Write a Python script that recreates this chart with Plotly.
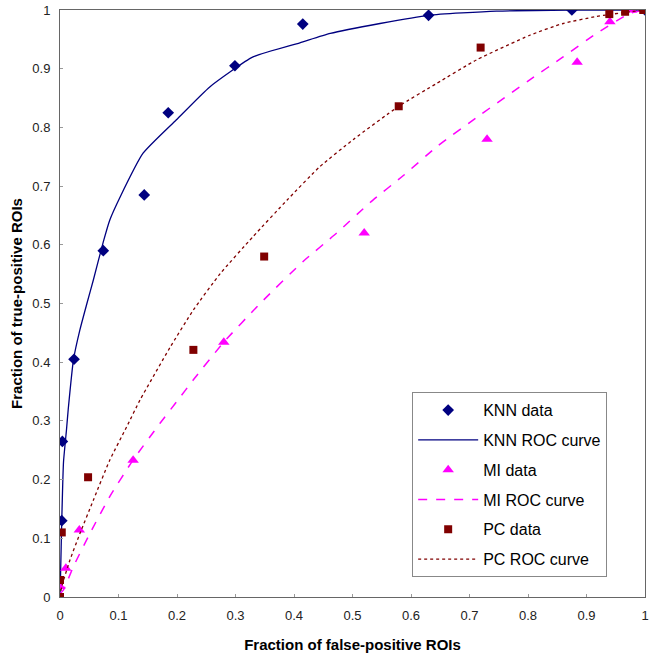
import plotly.graph_objects as go

# KNN classifier
knn_fp = [0.003, 0.004, 0.024, 0.074, 0.144, 0.185, 0.299, 0.415, 0.630, 0.875, 1.0]
knn_tp = [0.130, 0.265, 0.405, 0.590, 0.685, 0.825, 0.905, 0.976, 0.991, 1.0, 1.0]
knn_curve_fp = [0, 0.001, 0.003, 0.006, 0.011, 0.014, 0.023, 0.034, 0.046, 0.057, 0.074, 0.085,
                0.103, 0.142, 0.199, 0.256, 0.330, 0.410, 0.462, 0.547, 0.630, 0.746, 0.875, 1.0]
knn_curve_tp = [0, 0.040, 0.130, 0.230, 0.284, 0.319, 0.404, 0.455, 0.500, 0.540, 0.605, 0.642,
                0.682, 0.756, 0.813, 0.869, 0.920, 0.944, 0.960, 0.977, 0.991, 0.998, 1.0, 1.0]

# MI classifier
mi_fp = [0, 0.010, 0.033, 0.125, 0.280, 0.520, 0.730, 0.884, 0.940, 0.977, 1.0]
mi_tp = [0.018, 0.049, 0.114, 0.233, 0.434, 0.620, 0.780, 0.911, 0.980, 1.0, 1.0]
mi_curve_fp = [0, 0.006, 0.023, 0.051, 0.085, 0.124, 0.171, 0.202, 0.228, 0.279, 0.342,
               0.416, 0.473, 0.530, 0.587, 0.644, 0.718, 0.803, 0.860, 0.917, 0.974, 1.0]
mi_curve_tp = [0.005, 0.012, 0.052, 0.108, 0.171, 0.232, 0.296, 0.336, 0.370, 0.433, 0.500,
               0.572, 0.620, 0.672, 0.718, 0.767, 0.821, 0.881, 0.920, 0.960, 0.994, 1.0]

# PC classifier
pc_fp = [0, 0, 0.003, 0.048, 0.228, 0.349, 0.579, 0.719, 0.939, 0.966, 0.997]
pc_tp = [0, 0.029, 0.110, 0.204, 0.421, 0.580, 0.836, 0.936, 0.993, 0.997, 1.0]
pc_curve_fp = [0, 0.003, 0.017, 0.034, 0.057, 0.085, 0.114, 0.137, 0.188, 0.228, 0.274, 0.330,
               0.388, 0.444, 0.501, 0.579, 0.644, 0.712, 0.803, 0.860, 0.917, 0.974, 1.0]
pc_curve_tp = [0, 0.018, 0.063, 0.108, 0.165, 0.233, 0.290, 0.336, 0.425, 0.489, 0.551, 0.614,
               0.676, 0.733, 0.779, 0.836, 0.875, 0.915, 0.957, 0.977, 0.989, 0.997, 1.0]

ticks = [0, 0.1, 0.2, 0.3, 0.4, 0.5, 0.6, 0.7, 0.8, 0.9, 1]
tick_text = ['0', '0.1', '0.2', '0.3', '0.4', '0.5', '0.6', '0.7', '0.8', '0.9', '1']

navy = '#000080'
magenta = '#FF00FF'
darkred = '#800000'
font = 'Liberation Sans, Arial'

fig = go.Figure()

fig.add_trace(go.Scatter(x=knn_fp, y=knn_tp, mode='markers', name='KNN data', legendgroup='a',
                         marker=dict(symbol='diamond', size=9, color=navy)))
fig.add_trace(go.Scatter(x=knn_curve_fp, y=knn_curve_tp, mode='lines', name='KNN ROC curve', legendgroup='b',
                         line=dict(color=navy, width=1.3, shape='spline', smoothing=0.5)))
fig.add_trace(go.Scatter(x=mi_fp, y=mi_tp, mode='markers', name='MI data', legendgroup='c',
                         marker=dict(symbol='triangle-up', size=10, color=magenta)))
fig.add_trace(go.Scatter(x=mi_curve_fp, y=mi_curve_tp, mode='lines', name='MI ROC curve', legendgroup='d',
                         line=dict(color=magenta, width=1.5, dash='dash', shape='spline', smoothing=0.5)))
fig.add_trace(go.Scatter(x=pc_fp, y=pc_tp, mode='markers', name='PC data', legendgroup='e',
                         marker=dict(symbol='square', size=8, color=darkred)))
fig.add_trace(go.Scatter(x=pc_curve_fp, y=pc_curve_tp, mode='lines', name='PC ROC curve', legendgroup='f',
                         line=dict(color=darkred, width=1.3, dash='dot', shape='spline', smoothing=0.5)))

axis_style = dict(
    range=[0, 1], tickvals=ticks, ticktext=tick_text,
    showgrid=False, zeroline=False, automargin=False,
    showline=True, linecolor='#666666', linewidth=1, mirror=True,
    ticks='inside', ticklen=3, tickcolor='#999999',
    tickfont=dict(family=font, size=13, color='#222222'),
)

fig.update_xaxes(title=dict(text='<b>Fraction of false-positive ROIs</b>', standoff=17,
                            font=dict(family=font, size=15, color='black')),
                 ticklabelstandoff=6, **axis_style)
fig.update_yaxes(title=dict(text='<b>Fraction of true-positive ROIs</b>', standoff=6,
                            font=dict(family=font, size=15, color='black')),
                 ticklabelstandoff=6, **axis_style)

fig.update_layout(
    width=656, height=655,
    margin=dict(l=60, r=11, t=10, b=58),
    plot_bgcolor='white', paper_bgcolor='white',
    legend=dict(x=0.602, y=0.349, xanchor='left', yanchor='top',
                bgcolor='white', bordercolor='#888888', borderwidth=1,
                tracegroupgap=6, itemwidth=60,
                font=dict(family=font, size=16, color='black')),
)

# drop the page's default body margin so the figure sits at the window's corner
fig.write_html("out.html", config={'displayModeBar': False},
               post_script="document.body.style.margin = '0';")
